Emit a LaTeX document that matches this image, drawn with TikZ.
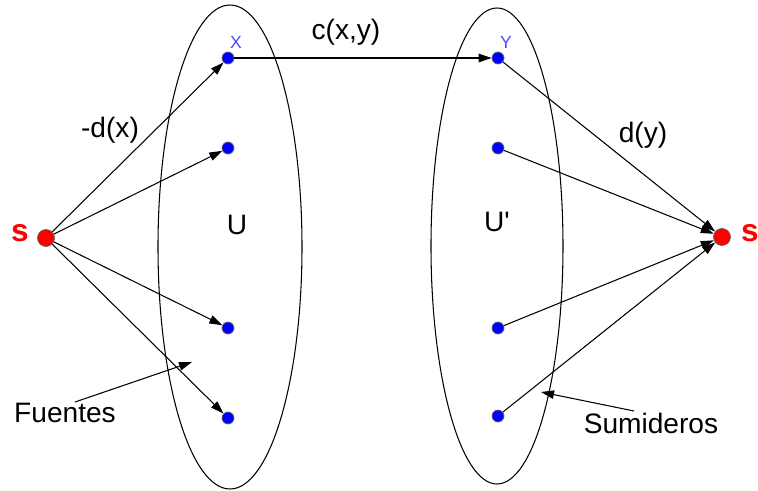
\documentclass[tikz,border=0pt]{standalone}
\usepackage{fontspec}
\setmainfont{Liberation Sans}
\usetikzlibrary{arrows.meta}
\tikzset{
  vert/.style={circle,draw=black!60,fill=blue,inner sep=0pt,minimum size=2.4mm},
  term/.style={circle,draw=black!60,fill=red,inner sep=0pt,minimum size=3.4mm},
  lbl/.style={font=\fontsize{16}{18}\selectfont},
  termlbl/.style={text=red,font=\fontsize{18}{20}\selectfont\bfseries},
  tag/.style={text=blue!70,font=\fontsize{10}{11}\selectfont},
  flow/.style={-{Triangle[length=2.6mm,width=1.7mm]},line width=0.6pt}
}

\begin{document}
\begin{tikzpicture}[x=0.2mm,y=-0.2mm]
\useasboundingbox (0,0) rectangle (758,491);

% the two sets
\draw[line width=0.6pt] (230,247) ellipse [x radius=72, y radius=242];
\draw[line width=0.6pt] (497,246) ellipse [x radius=66, y radius=238];

\node[term] (s) at (46,238) {};
\node[term] (t) at (722,237) {};
\node[termlbl] (sl) at (20,233) {s};
\node[termlbl] (tl) at (750,233) {s};

\node[vert] (x) at (228,58) {};
\node[vert] (u2) at (228,148) {};
\node[vert] (u3) at (228,328) {};
\node[vert] (u4) at (228,418) {};
\node[vert] (y) at (498,58) {};
\node[vert] (v2) at (498,148) {};
\node[vert] (v3) at (498,328) {};
\node[vert] (v4) at (498,416) {};

\node[tag] (xl) at (236,42) {X};
\node[tag] (yl) at (506,42) {Y};
\node[lbl] (U) at (237,225) {U};
\node[lbl] (Up) at (497,222) {U\textquotesingle};

\draw[flow] (s) -- (x);
\draw[flow] (s) -- (u2);
\draw[flow] (s) -- (u3);
\draw[flow] (s) -- (u4);
\draw[flow] (x) -- (y);
\draw[flow] (y) -- (t);
\draw[flow] (v2) -- (t);
\draw[flow] (v3) -- (t);
\draw[flow] (v4) -- (t);

\node[lbl] (cxy) at (346,32) {c(x,y)};
\node[lbl] (dx) at (110,130) {-d(x)};
\node[lbl] (dy) at (643,135) {d(y)};

\node[lbl] (src) at (65,413) {Fuentes};
\node[lbl] (snk) at (651,423) {Sumideros};
\coordinate (srcbeg) at (75,402);
\coordinate (srcend) at (192,362);
\coordinate (snkbeg) at (634,411);
\coordinate (snkend) at (541,392);
\draw[flow] (srcbeg) -- (srcend);
\draw[flow] (snkbeg) -- (snkend);

\end{tikzpicture}
\end{document}
